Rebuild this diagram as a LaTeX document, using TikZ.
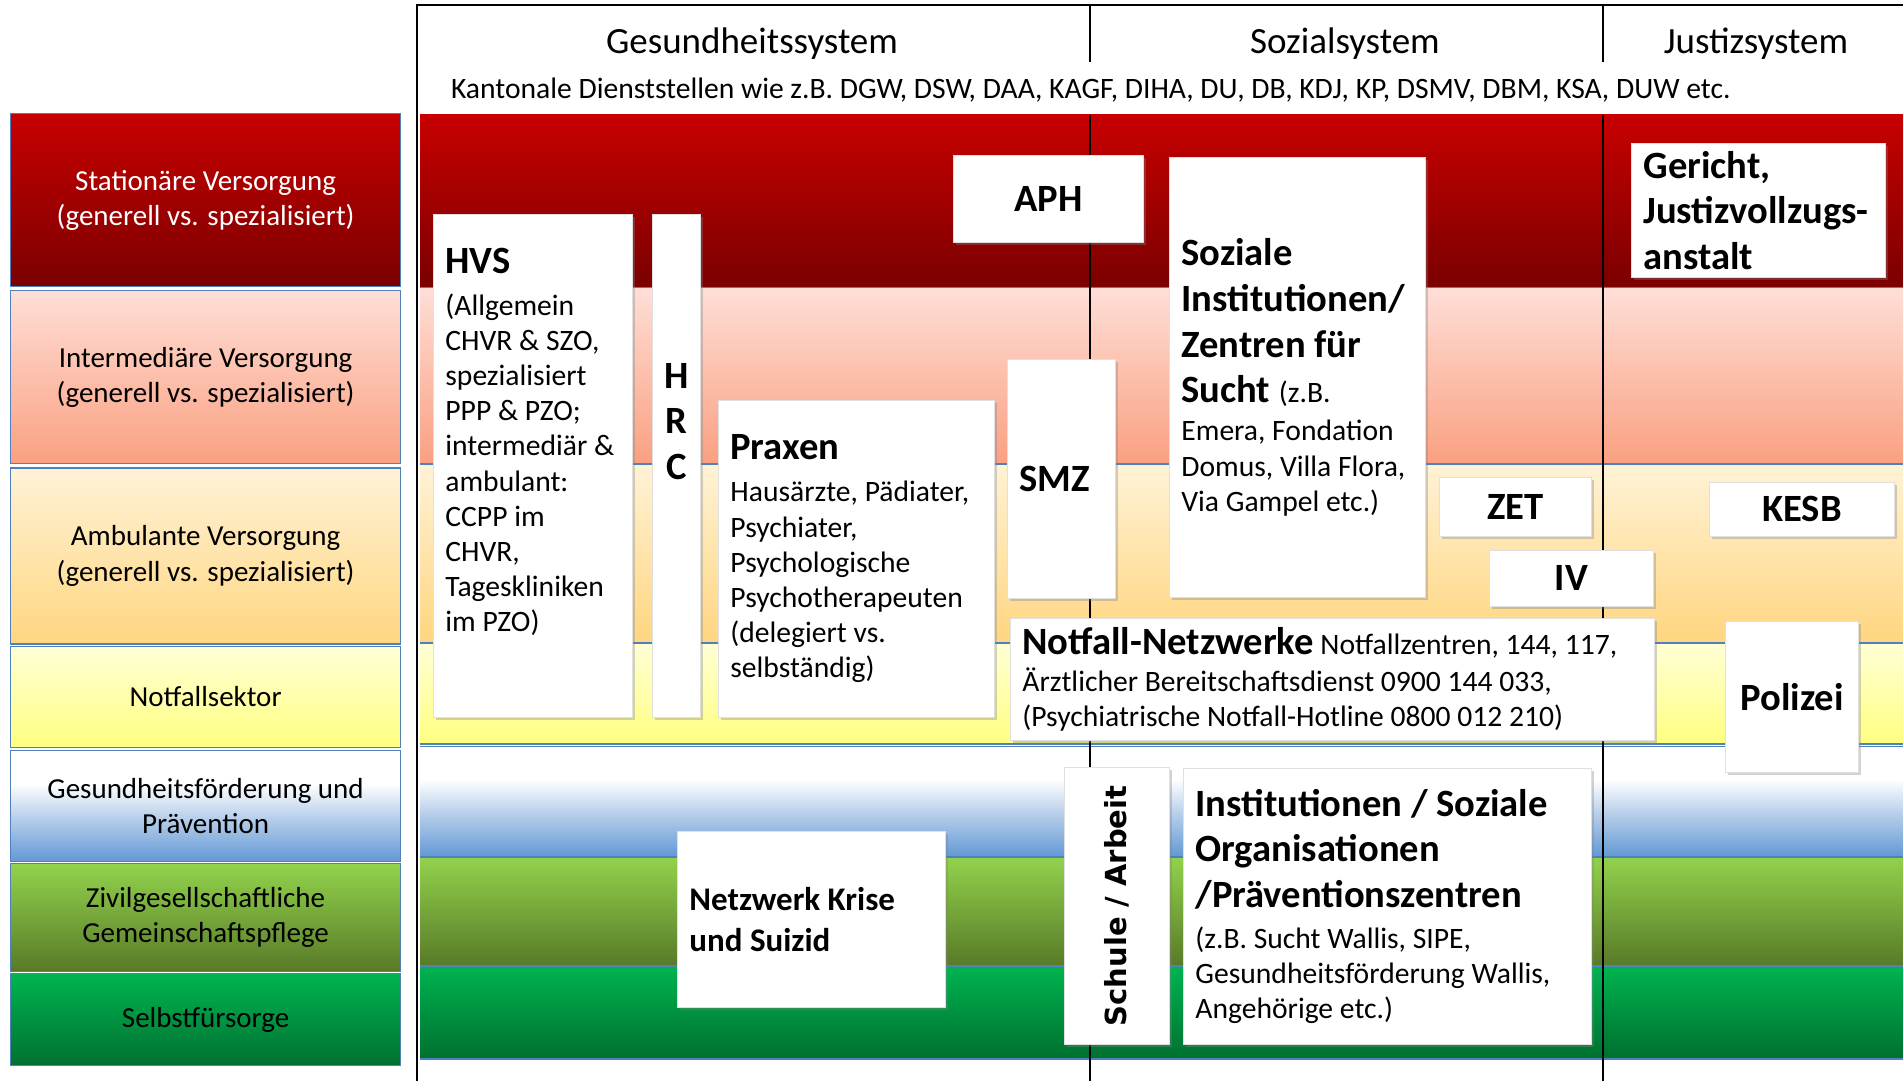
\documentclass[tikz,border=0pt]{standalone}
\usepackage{fontspec}
\setmainfont{Carlito}
\newfontfamily\schulefont{DejaVu Sans}
\usepackage{graphicx}
\usepackage{tikz}
\usetikzlibrary{positioning, shadows}

\definecolor{statTop}{RGB}{200,0,0}
\definecolor{statBot}{RGB}{122,0,0}
\definecolor{interTop}{RGB}{255,222,215}
\definecolor{interBot}{RGB}{250,160,128}
\definecolor{ambTop}{RGB}{255,242,214}
\definecolor{ambBot}{RGB}{255,214,128}
\definecolor{notfTop}{RGB}{255,255,214}
\definecolor{notfBot}{RGB}{255,255,128}
\definecolor{gesMid}{RGB}{185,208,235}
\definecolor{gesBot}{RGB}{98,152,212}
\definecolor{zivTop}{RGB}{146,210,76}
\definecolor{zivBot}{RGB}{88,122,40}
\definecolor{selTop}{RGB}{0,180,80}
\definecolor{selBot}{RGB}{0,112,48}
\definecolor{bandline}{RGB}{79,129,189}

% white on top, blue at the bottom
\pgfdeclareverticalshading{gesshade}{100bp}{color(0bp)=(gesBot); color(25bp)=(gesBot); color(45bp)=(gesMid); color(60bp)=(white); color(100bp)=(white)}

\newcommand{\headtxt}{\fontsize{19.3}{22.8}\selectfont\bfseries}
\newcommand{\bodytxt}{\fontsize{14.8}{17.6}\selectfont}

\begin{document}
\begin{tikzpicture}[
    x=0.5pt, y=-0.5pt,
    sector/.style={
        draw=bandline, line width=0.6pt, align=center, inner sep=0pt,
        font=\fontsize{14.5}{17.6}\selectfont, minimum width=195pt
    },
    wbox/.style={
        fill=white, draw=black!12, line width=0.4pt, anchor=north west,
        inner xsep=6pt, inner ysep=0pt, align=flush left, font=\bodytxt,
        drop shadow={shadow xshift=1.2pt, shadow yshift=-1.2pt, opacity=0.35}
    },
    syshead/.style={font=\fontsize{18.5}{22}\selectfont},
    sysline/.style={draw, line width=1.4pt},
    sep/.style={draw=bandline, line width=0.8pt}
]
    \useasboundingbox (0,0) rectangle (1903,1081);

    % sectors (left column)
    \node[sector, anchor=north west, minimum height=86.5pt, top color=statTop, bottom color=statBot, text=white] (stat) at (10,113) {Stationäre Versorgung\\(generell vs. spezialisiert)};
    \node[sector, below=1.5pt of stat, minimum height=86.5pt, top color=interTop, bottom color=interBot] (inter) {Intermediäre Versorgung\\(generell vs. spezialisiert)};
    \node[sector, below=1.5pt of inter, minimum height=88pt, top color=ambTop, bottom color=ambBot] (amb) {Ambulante Versorgung\\(generell vs. spezialisiert)};
    \node[sector, below=0.5pt of amb, minimum height=50.5pt, top color=notfTop, bottom color=notfBot] (notf) {Notfallsektor};
    \node[sector, below=1pt of notf, minimum height=55.5pt, shading=gesshade] (gesund) {Gesundheitsförderung und\\Prävention};
    \node[sector, below=0.5pt of gesund, minimum height=54pt, top color=zivTop, bottom color=zivBot] (zivil) {Zivilgesellschaftliche\\Gemeinschaftspflege};
    \node[sector, below=0.5pt of zivil, minimum height=46pt, top color=selTop, bottom color=selBot] (selbst) {Selbstfürsorge};

    % bands
    \shade[top color=statTop, bottom color=statBot] (420,115) rectangle (1903,287.5);
    \shade[top color=interTop, bottom color=interBot] (420,287.5) rectangle (1903,464);
    \shade[top color=ambTop, bottom color=ambBot] (420,464) rectangle (1903,643);
    \shade[top color=notfTop, bottom color=notfBot] (420,643) rectangle (1903,744);
    \shade[shading=gesshade] (420,746) rectangle (1903,857);
    \shade[top color=zivTop, bottom color=zivBot] (420,857) rectangle (1903,966);
    \shade[top color=selTop, bottom color=selBot] (420,966) rectangle (1903,1059);
    \draw[sep] (420,287.5) -- (1903,287.5);
    \draw[sep] (420,464) -- (1903,464);
    \draw[sep] (420,643) -- (1903,643);
    \draw[sep] (420,744) -- (1903,744);
    \draw[sep] (420,746.5) -- (1903,746.5);
    \draw[sep] (420,857) -- (1903,857);
    \draw[sep] (420,966) -- (1903,966);
    \draw[sep] (420,1059) -- (1903,1059);

    % systems
    \draw[sysline] (417,1081) -- (417,5) -- (1903,5);
    \draw[sysline] (1090,5) -- (1090,62);
    \draw[sysline] (1603,5) -- (1603,62);
    \draw[sysline] (1090,115) -- (1090,1081);
    \draw[sysline] (1603,115) -- (1603,1081);
    \node[syshead] (gs) at (752,44) {Gesundheitssystem};
    \node[syshead] (ss) at (1345,44) {Sozialsystem};
    \node[syshead] (js) at (1756,44) {Justizsystem};
    \node[anchor=west, font=\fontsize{14.8}{17}\selectfont] (kd) at (444,90) {Kantonale Dienststellen wie z.B. DGW, DSW, DAA, KAGF, DIHA, DU, DB, KDJ, KP, DSMV, DBM, KSA, DUW etc.};

    % institutions
    \node[wbox, minimum width=95pt, minimum height=43.5pt, align=center, font=\headtxt] (aph) at (953,155) {APH};
    \node[wbox, minimum width=99.5pt, minimum height=251.5pt, text width=87.5pt] (hvs) at (433,214)
        {{\headtxt HVS\par}\vspace{3pt}(Allgemein\\CHVR \& SZO,\\spezialisiert\\PPP \& PZO;\\intermediär \&\\ambulant:\\CCPP im\\CHVR,\\Tageskliniken\\im PZO)\par\vspace{8pt}\null};
    \node[wbox, inner xsep=0pt, minimum width=24pt, minimum height=251.5pt, text width=24pt, align=center, font=\headtxt] (hrc) at (652,214) {H\\R\\C\par\vspace{22pt}\null};
    \node[wbox, minimum width=138pt, minimum height=158.5pt, text width=126pt] (praxen) at (718,400)
        {{\headtxt Praxen\par}\vspace{3.5pt}Hausärzte, Pädiater,\\Psychiater,\\Psychologische\\Psychotherapeuten\\(delegiert vs.\\selbständig)\par};
    \node[wbox, minimum width=54pt, minimum height=119.5pt, text width=42pt, font=\headtxt] (smz) at (1007,359) {SMZ};
    \node[wbox, minimum width=128pt, minimum height=220pt, text width=116pt] (sozinst) at (1169,157)
        {{\headtxt Soziale\\Institutionen/\\Zentren für\\Sucht {\mdseries\fontsize{14.8}{22.8}\selectfont(z.B.}\par}\vspace{1.5pt}Emera, Fondation\\Domus, Villa Flora,\\Via Gampel etc.)\par};
    \node[wbox, minimum width=127pt, minimum height=67pt, text width=115pt, font=\headtxt] (gericht) at (1631,143) {Gericht,\\Justizvollzugs-\\anstalt};
    \node[wbox, minimum width=76pt, minimum height=29.5pt, align=center, font=\headtxt] (zet) at (1439,477) {ZET};
    \node[wbox, minimum width=92.5pt, minimum height=27pt, align=center, font=\headtxt] (kesb) at (1709,482) {KESB};
    \node[wbox, minimum width=82pt, minimum height=28pt, align=center, font=\headtxt] (iv) at (1489,550) {IV};
    \node[wbox, minimum width=322pt, minimum height=61pt, text width=310pt] (nfnetz) at (1010,618)
        {{\headtxt Notfall-Netzwerke} Notfallzentren, 144, 117,\\[1pt]Ärztlicher Bereitschaftsdienst 0900 144 033,\\(Psychiatrische Notfall-Hotline 0800 012 210)\par};
    \node[wbox, minimum width=66.5pt, minimum height=75.5pt, align=center, font=\headtxt] (polizei) at (1725,621) {Polizei};
    \node[wbox, minimum width=134pt, minimum height=88pt, text width=122pt, font=\fontsize{16.5}{20.6}\selectfont\bfseries] (krise) at (677,831) {Netzwerk Krise\\und Suizid\par};
    \node[wbox, inner xsep=0pt, minimum width=52.5pt, minimum height=138.5pt, align=center] (schule) at (1064,767)
        {\rotatebox{90}{\schulefont\bfseries\fontsize{14.5}{17}\selectfont Schule / Arbeit}};
    \node[wbox, minimum width=204pt, minimum height=138pt, text width=192pt] (praev) at (1183,768)
        {{\headtxt Institutionen / Soziale\\Organisationen\\/Präventionszentren\par}\vspace{3pt}(z.B. Sucht Wallis, SIPE,\\Gesundheitsförderung Wallis,\\Angehörige etc.)\par};
\end{tikzpicture}
\end{document}
